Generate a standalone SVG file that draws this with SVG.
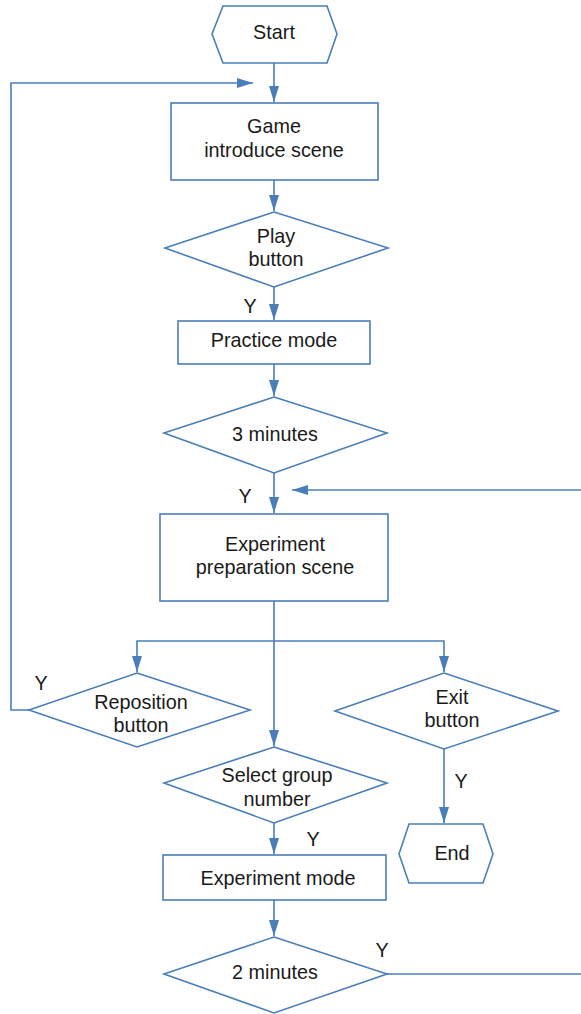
<svg xmlns="http://www.w3.org/2000/svg" width="581" height="1014" viewBox="0 0 581 1014">
<style>
.s{fill:#fff;stroke:#4a7ebb;stroke-width:1.6}
.c{fill:none;stroke:#4a7ebb;stroke-width:1.6}
text{font-family:"Liberation Sans",Arial,sans-serif;font-size:19.8px;fill:#1a1a1a;text-anchor:middle}
</style>
<defs>
<marker id="a" markerUnits="userSpaceOnUse" markerWidth="16" markerHeight="10" refX="16" refY="5" orient="auto">
<path d="M0,0 L16,5 L0,10 z" fill="#4a7ebb"/>
</marker>
</defs>
<rect width="581" height="1014" fill="#fff"/>
<g id="connectors">
<path class="c" d="M274,63 V102" marker-end="url(#a)"/>
<path class="c" d="M274,180 V211" marker-end="url(#a)"/>
<path class="c" d="M274,287 V320" marker-end="url(#a)"/>
<path class="c" d="M274,364 V396" marker-end="url(#a)"/>
<path class="c" d="M274,473 V513" marker-end="url(#a)"/>
<path class="c" d="M581,490 H292" marker-end="url(#a)"/>
<path class="c" d="M274,601 V746" marker-end="url(#a)"/>
<path class="c" d="M274,641 H137 V672" marker-end="url(#a)"/>
<path class="c" d="M274,641 H444 V672" marker-end="url(#a)"/>
<path class="c" d="M29,710 H11 V83 H253" marker-end="url(#a)"/>
<path class="c" d="M444,749 V823" marker-end="url(#a)"/>
<path class="c" d="M274,823 V854" marker-end="url(#a)"/>
<path class="c" d="M274,900 V936" marker-end="url(#a)"/>
<path class="c" d="M387,974 H581"/>
<text x="250" y="313">Y</text>
<text x="245" y="503">Y</text>
<text x="41" y="690">Y</text>
<text x="461" y="788">Y</text>
<text x="313" y="846">Y</text>
<text x="382" y="957">Y</text>
</g>
<g id="start">
<polygon class="s" points="212,34 223,6 327,6 337,34 327,63 223,63"/>
<text x="274" y="39">Start</text>
</g>
<g id="game-intro">
<rect class="s" x="171" y="103" width="207" height="77"/>
<text x="274" y="133">Game</text>
<text x="274" y="157">introduce scene</text>
</g>
<g id="play-button">
<polygon class="s" points="274,212 388,248 274,287 165,248"/>
<text x="276" y="243">Play</text>
<text x="276" y="266">button</text>
</g>
<g id="practice-mode">
<rect class="s" x="178" y="321" width="192" height="43"/>
<text x="274" y="347">Practice mode</text>
</g>
<g id="three-minutes">
<polygon class="s" points="274,397 387,433 274,473 164,433"/>
<text x="275" y="441">3 minutes</text>
</g>
<g id="experiment-prep">
<rect class="s" x="160" y="514" width="228" height="87"/>
<text x="275" y="551">Experiment</text>
<text x="275" y="574">preparation scene</text>
</g>
<g id="reposition-button">
<polygon class="s" points="137,673 250,710 137,747 29,710"/>
<text x="141" y="709">Reposition</text>
<text x="141" y="732">button</text>
</g>
<g id="exit-button">
<polygon class="s" points="444,673 558,711 444,749 335,711"/>
<text x="452" y="704">Exit</text>
<text x="452" y="727">button</text>
</g>
<g id="end">
<polygon class="s" points="399,854 409,824 483,824 493,854 483,883 409,883"/>
<text x="452" y="860">End</text>
</g>
<g id="select-group">
<polygon class="s" points="274,747 387,783 274,823 164,783"/>
<text x="277" y="782">Select group</text>
<text x="277" y="806">number</text>
</g>
<g id="experiment-mode">
<rect class="s" x="163" y="855" width="223" height="45"/>
<text x="278" y="885">Experiment mode</text>
</g>
<g id="two-minutes">
<polygon class="s" points="274,937 387,974 274,1013 164,974"/>
<text x="275" y="979">2 minutes</text>
</g>
</svg>
